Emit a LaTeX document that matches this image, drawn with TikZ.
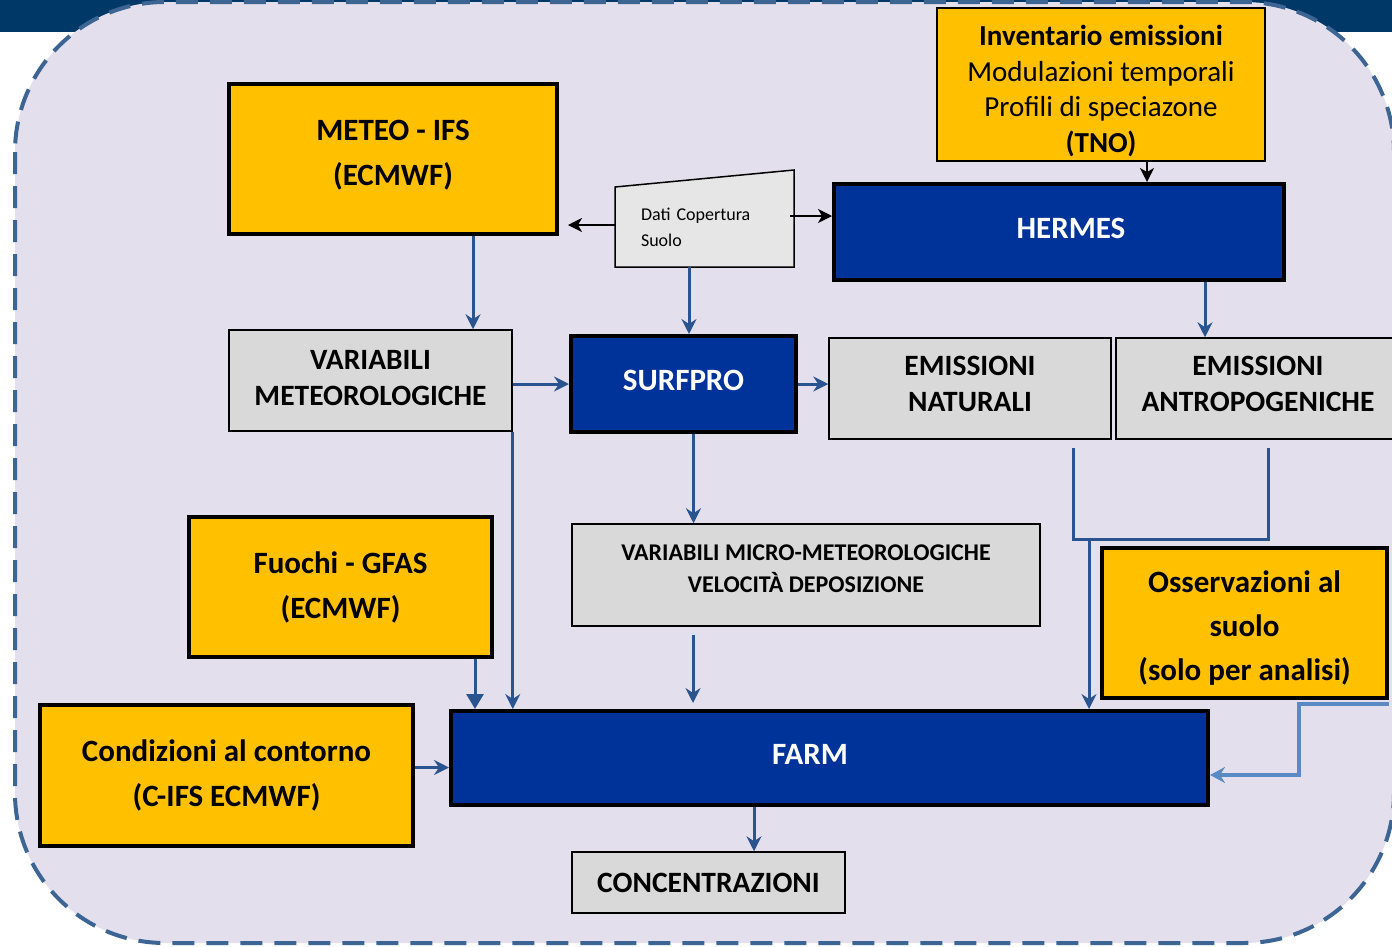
\documentclass[tikz,border=0pt]{standalone}
\usepackage{fontspec}
\setmainfont{Carlito}
\usetikzlibrary{arrows.meta}
\definecolor{boxyellow}{HTML}{FFC000}
\definecolor{boxblue}{HTML}{003399}
\definecolor{boxgrey}{HTML}{D9D9D9}
\definecolor{trapgrey}{HTML}{E6E6E6}
\definecolor{flowblue}{HTML}{2A5490}
\definecolor{obsblue}{HTML}{5A8AC6}
\definecolor{bglav}{HTML}{E4DFEC}
\definecolor{bandblue}{HTML}{003868}
\definecolor{dashblue}{HTML}{3D6594}

\begin{document}
\begin{tikzpicture}[x=1pt, y=-1pt,
    base/.style={align=center, inner sep=0pt, font=\fontsize{31}{45}\selectfont\bfseries},
    yellowbox/.style={base, draw=black, line width=4pt, fill=boxyellow},
    bluebox/.style={base, draw=black, line width=4pt, fill=boxblue, text=white, text depth=8pt},
    greybox/.style={base, draw=black, line width=1.5pt, fill=boxgrey, font=\fontsize{29.5}{36}\selectfont\bfseries},
    blackarrow/.style={draw=black, line width=1.5pt, -{Stealth[length=14pt, width=14pt, inset=4pt]}},
    flowline/.style={draw=flowblue, line width=3pt},
    flow/.style={flowline, -{Stealth[length=15pt, width=15pt, inset=5pt]}},
    flowtri/.style={flowline, -{Triangle[length=15pt, width=17pt]}},
    obsflow/.style={draw=obsblue, line width=4.5pt, -{Stealth[length=15pt, width=16pt, inset=5pt]}}]
\useasboundingbox (0,0) rectangle (1392,946);
\clip (0,0) rectangle (1392,946);
\fill[bandblue] (0,0) rectangle (1392,32);
\draw[dashblue, fill=bglav, line width=4pt, dash pattern=on 22pt off 12pt, rounded corners=150pt] (15,2) rectangle (1394,943);

\draw[black, line width=1.5pt, fill=trapgrey] (615,187) -- (794,170) -- (794,267) -- (615,267) -- cycle;
\node[inner sep=0pt, align=left, text width=127pt, minimum width=179pt, minimum height=80pt, font=\fontsize{18}{26}\selectfont] (dati) at (704.5,227) {Dati Copertura\\Suolo};

\node[yellowbox, text depth=12pt, minimum width=328pt, minimum height=150pt] (meteo) at (393,159) {METEO - IFS\\(ECMWF)};
\node[yellowbox, line width=2pt, minimum width=328pt, minimum height=153pt, font=\fontsize{29}{35.5}\selectfont] (inv) at (1101,84.5) {\rule{0pt}{33pt}\textbf{Inventario emissioni}\\Modulazioni temporali\\Profili di speciazone\\\textbf{(TNO)}};
\node[bluebox, minimum width=450pt, minimum height=96pt] (hermes) at (1059,232) {\hspace*{24pt}HERMES};
\node[greybox, text depth=6pt, minimum width=283pt, minimum height=101pt] (varmet) at (370.5,380.5) {VARIABILI\\METEOROLOGICHE};
\node[bluebox, minimum width=225pt, minimum height=96pt] (surfpro) at (683.5,384) {SURFPRO};
\node[greybox, text depth=9pt, minimum width=282pt, minimum height=101pt] (emnat) at (970,388.5) {EMISSIONI\\NATURALI};
\node[greybox, text depth=9pt, minimum width=284pt, minimum height=101pt] (emant) at (1258,388.5) {EMISSIONI\\ANTROPOGENICHE};
\node[greybox, text depth=12pt, minimum width=468pt, minimum height=102pt, font=\fontsize{24}{32}\selectfont\bfseries] (micro) at (806,575) {VARIABILI MICRO-METEOROLOGICHE\\VELOCITÀ DEPOSIZIONE};
\node[yellowbox, minimum width=303pt, minimum height=140pt] (fuochi) at (340.5,587) {Fuochi - GFAS\\(ECMWF)};
\node[yellowbox, minimum width=285pt, minimum height=150pt, font=\fontsize{31}{44}\selectfont\bfseries] (oss) at (1244.5,623) {\rule{0pt}{31.5pt}Osservazioni al\\suolo\\(solo per analisi)};
\node[yellowbox, minimum width=373pt, minimum height=141pt] (cond) at (226.5,775.5) {Condizioni al contorno\\(C-IFS ECMWF)};
\node[bluebox, minimum width=757pt, minimum height=94pt] (farm) at (829.5,758) {\hspace*{-39pt}FARM};
\node[greybox, minimum width=273pt, minimum height=61pt] (conc) at (708.5,882.5) {CONCENTRAZIONI};

\draw[blackarrow] ([yshift=2pt]dati.west) -- ([xshift=9pt,yshift=2pt]dati.west -| meteo.east);
\draw[blackarrow] ([xshift=-4pt,yshift=11pt]dati.east) -- ([yshift=11pt]dati.east -| hermes.west);
\draw[blackarrow] ([xshift=46pt]inv.south) -- ([xshift=46pt]inv.south |- hermes.north);

\draw[flow] ([xshift=80pt]meteo.south) -- ([xshift=80pt]meteo.south |- varmet.north);
\draw[flow] ([xshift=-15.5pt]dati.south) -- ([xshift=-15.5pt]dati.south |- surfpro.north);
\draw[flow] (varmet.east |- surfpro.west) -- (surfpro.west);
\draw[flow] (surfpro.east) -- (surfpro.east -| emnat.west);
\draw[flow] ([xshift=-53pt]emant.north |- hermes.south) -- ([xshift=-53pt]emant.north);
\draw[flow] ([xshift=10pt]surfpro.south) -- ([xshift=10pt]surfpro.south |- micro.north);
\draw[flow] (varmet.south east) -- (varmet.south east |- farm.north);
\draw[flowtri] ([xshift=-19pt]fuochi.south east) -- ([xshift=-19pt]fuochi.south east |- farm.north);
\draw[flow] ([xshift=-113pt,yshift=-8pt]micro.south) -- ([xshift=-113pt,yshift=6pt]micro.south |- farm.north);

\coordinate (jl) at (1073,539);
\coordinate (jr) at (1268,539);
\draw[flowline] ([yshift=-8pt]emnat.south -| jl) -- (jl) -- (jr) -- ([yshift=-8pt]emant.south -| jr);
\draw[flow] ([xshift=16pt]jl) -- ([xshift=16pt]jl |- farm.north);

\draw[obsflow] ([yshift=-4pt]oss.south east) -- ++(-90,0) |- ([yshift=-17pt]farm.east);
\draw[flow] ([yshift=8pt]cond.east) -- ([yshift=8pt]cond.east -| farm.west);
\draw[flow] ([xshift=45.5pt]conc.north |- farm.south) -- ([xshift=45.5pt]conc.north);
\end{tikzpicture}
\end{document}
